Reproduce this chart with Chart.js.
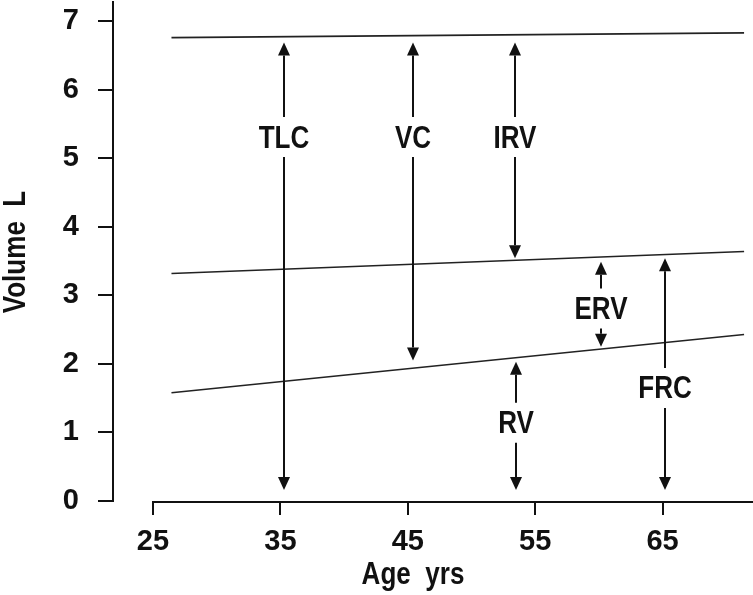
<!DOCTYPE html>
<html>
<head>
<meta charset="utf-8">
<script src="https://cdn.jsdelivr.net/npm/chart.js@4.4.1/dist/chart.umd.min.js"></script>
<style>
  html, body { margin: 0; padding: 0; background: #fff; }
  #wrap { width: 753px; height: 595px; }
</style>
</head>
<body>
<div id="wrap"><canvas id="lungChart"></canvas></div>
<script>
// ===== DATA =====
const lineAges = [26.45, 71.4];
const tlcLine = [6.76, 6.83];
const frcLine = [3.32, 3.64];
const rvLine = [1.58, 2.43];

const xTicks = [25, 35, 45, 55, 65];
const yTicks = [0, 1, 2, 3, 4, 5, 6, 7];

const arrowLabels = ['TLC', 'VC', 'IRV', 'ERV', 'RV', 'FRC'];
const arrowAges = [35.3, 45.4, 53.4, 60.2, 53.5, 65.2];
const arrowFrom = [0.16, 2.05, 3.54, 2.25, 0.16, 0.16];
const arrowTo = [6.69, 6.69, 6.69, 3.49, 2.03, 3.54];
const arrowLabelY = [5.31, 5.31, 5.31, 2.81, 1.14, 1.65];

const FONT = "'Liberation Sans', Arial, sans-serif";
const NARROW = 0.84; // fake condensed face for the drawn labels

function toPoints(xs, ys) {
    return xs.map((x, i) => ({ x: x, y: ys[i] }));
}

function narrowText(ctx, text, x, y) {
    ctx.save();
    ctx.translate(x, y);
    ctx.scale(NARROW, 1);
    ctx.fillText(text, 0, 0);
    ctx.restore();
}

// draws arrows, labels, x axis line and axis titles
const annotatePlugin = {
    id: 'annotate',
    afterDraw(chart) {
        const ctx = chart.ctx;
        const xs = chart.scales.x;
        const ys = chart.scales.y;
        const area = chart.chartArea;
        ctx.save();

        // x axis line starts at 25, not at the y axis
        ctx.strokeStyle = '#111';
        ctx.lineWidth = 2;
        ctx.beginPath();
        ctx.moveTo(xs.getPixelForValue(xTicks[0]) - 1, area.bottom + 1);
        ctx.lineTo(chart.width, area.bottom + 1);
        ctx.stroke();

        const headLen = 13, headW = 6, gap = 20;
        ctx.font = 'bold 31px ' + FONT;
        ctx.textAlign = 'center';
        ctx.textBaseline = 'middle';
        arrowLabels.forEach((lbl, i) => {
            const x = Math.round(xs.getPixelForValue(arrowAges[i]));
            const yBot = ys.getPixelForValue(arrowFrom[i]);
            const yTop = ys.getPixelForValue(arrowTo[i]);
            const ly = ys.getPixelForValue(arrowLabelY[i]);

            ctx.fillStyle = '#111';
            ctx.strokeStyle = '#111';
            ctx.lineWidth = 2;
            ctx.beginPath();
            ctx.moveTo(x, yTop + headLen);
            ctx.lineTo(x, ly - gap);
            ctx.moveTo(x, ly + gap);
            ctx.lineTo(x, yBot - headLen);
            ctx.stroke();

            // heads
            ctx.beginPath();
            ctx.moveTo(x, yTop);
            ctx.lineTo(x - headW, yTop + headLen);
            ctx.lineTo(x + headW, yTop + headLen);
            ctx.closePath();
            ctx.fill();
            ctx.beginPath();
            ctx.moveTo(x, yBot);
            ctx.lineTo(x - headW, yBot - headLen);
            ctx.lineTo(x + headW, yBot - headLen);
            ctx.closePath();
            ctx.fill();

            narrowText(ctx, lbl, x, ly + 2);
        });

        // axis titles
        ctx.font = 'bold 31px ' + FONT;
        narrowText(ctx, 'Age  yrs', 413, 575);
        ctx.translate(16, 252);
        ctx.rotate(-Math.PI / 2);
        narrowText(ctx, 'Volume  L', 0, 0);
        ctx.restore();
    }
};

const lineStyle = {
    showLine: true,
    borderColor: '#222',
    borderWidth: 1.6,
    pointRadius: 0,
    fill: false
};

new Chart(document.getElementById('lungChart'), {
    type: 'scatter',
    data: {
        datasets: [
            Object.assign({ label: 'TLC', data: toPoints(lineAges, tlcLine) }, lineStyle),
            Object.assign({ label: 'FRC', data: toPoints(lineAges, frcLine) }, lineStyle),
            Object.assign({ label: 'RV', data: toPoints(lineAges, rvLine) }, lineStyle)
        ]
    },
    options: {
        responsive: true,
        maintainAspectRatio: false,
        animation: false,
        layout: { padding: { top: 2, left: 0, right: 0, bottom: 0 } },
        plugins: {
            legend: { display: false },
            tooltip: { enabled: false }
        },
        scales: {
            x: {
                type: 'linear',
                min: 21.86,
                max: 72.1,
                afterBuildTicks: (scale) => { scale.ticks = xTicks.map(v => ({ value: v })); },
                afterFit: (scale) => { scale.height = 94; scale.paddingLeft = 0; scale.paddingRight = 0; },
                border: { display: false },
                grid: { drawOnChartArea: false, tickLength: 14, color: '#111', lineWidth: 2 },
                ticks: {
                    color: '#111',
                    padding: 10,
                    maxRotation: 0,
                    autoSkip: false,
                    font: { family: FONT, size: 29, weight: 'bold' }
                }
            },
            y: {
                min: 0,
                max: 7.28,
                afterBuildTicks: (scale) => { scale.ticks = yTicks.map(v => ({ value: v })); },
                afterFit: (scale) => { scale.width = 113; scale.paddingTop = 0; scale.paddingBottom = 0; },
                border: { display: true, color: '#111', width: 2 },
                grid: { drawOnChartArea: false, tickLength: 15, color: '#111', lineWidth: 2 },
                ticks: {
                    color: '#111',
                    padding: 19,
                    font: { family: FONT, size: 29, weight: 'bold' }
                }
            }
        }
    },
    plugins: [annotatePlugin]
});
</script>
</body>
</html>
